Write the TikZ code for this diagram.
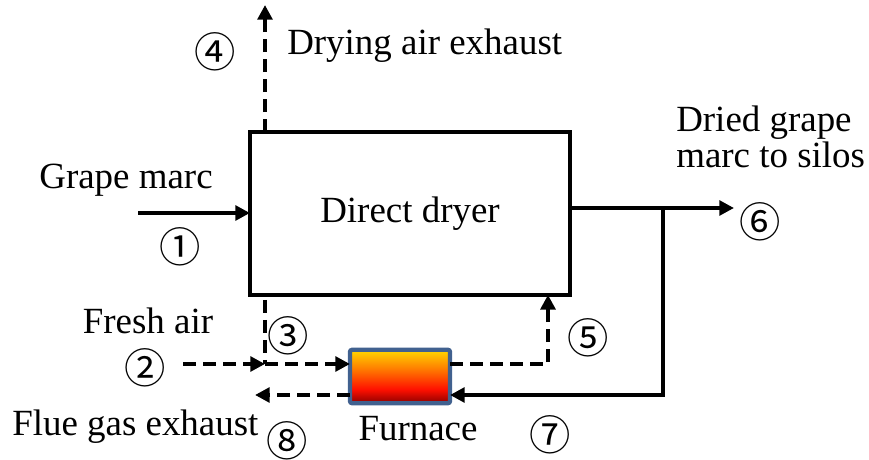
\documentclass[tikz,border=0pt]{standalone}
\usepackage{fontspec}
\setmainfont{Liberation Serif}
\newfontfamily\circfont{Noto Sans CJK SC}
\usetikzlibrary{arrows.meta,calc}
\definecolor{furnblue}{HTML}{41618F}
\definecolor{fdred}{HTML}{8C0000}
\definecolor{fred}{HTML}{FF1000}
\definecolor{forange}{HTML}{FF8000}
\definecolor{fyellow}{HTML}{FFD800}
\pgfdeclareverticalshading{furnshade}{100bp}{color(0bp)=(fdred); color(25bp)=(fdred); color(38bp)=(fred); color(58bp)=(forange); color(75bp)=(fyellow); color(100bp)=(fyellow)}
\tikzset{
  lbl/.style={font=\fontsize{27.7pt}{27.7pt}\selectfont, inner sep=0pt},
  num/.style={font=\circfont\fontsize{31pt}{31pt}\selectfont, inner sep=0pt},
  flow/.style={line width=3.4pt, -{Triangle[length=11pt,width=11pt]}},
  gasflow/.style={flow, dash pattern=on 9.5pt off 5.5pt},
  gasline/.style={line width=3.4pt, dash pattern=on 9.5pt off 5.5pt},
}
\begin{document}
\begin{tikzpicture}[x=0.75pt,y=-0.75pt]
\useasboundingbox (0,0) rectangle (869,460);
% units
\node[draw, line width=3.4pt, minimum width=240pt, minimum height=122pt, outer sep=0pt, lbl] (dryer) at (410,213.5) {Direct dryer};
\node[draw=furnblue, line width=3.2pt, rounded corners=1.5pt, minimum width=75pt, minimum height=40pt, outer sep=0pt, shading=furnshade] (furn) at (400,376.5) {};
% coordinates
\coordinate (gm) at (138,213);
\coordinate (ex) at (265,5);
\coordinate (out) at (734,208);
\coordinate (br) at (663,208);
\coordinate (ret) at (663,395);
\coordinate (fa) at (183,364);
\coordinate (jn) at (265,364);
\coordinate (f5) at (548,364);
\coordinate (fg) at (255,395);
% connectors
\draw[flow] (gm) -- (gm -| dryer.west);
\draw[gasflow] (ex |- dryer.north) -- (ex);
\draw[flow] (dryer.east |- out) -- (out);
\draw[flow] (br) -- (ret) -- (ret -| furn.east);
\draw[gasflow] (fa) -- (jn);
\draw[gasline] ($(jn |- dryer.south)+(0,5)$) -- (jn);
\draw[gasflow] (jn) -- (jn -| furn.west);
\draw[gasflow] (furn.east |- f5) -- (f5) -- (f5 |- dryer.south);
\draw[gasflow] (furn.west |- ret) -- (fg);
% labels
\node[lbl, anchor=base] (tgm) at (126,189) {Grape marc};
\node[lbl, anchor=base west] (tex) at (287,55) {Drying air exhaust};
\node[lbl, anchor=base west] (tdg1) at (676,132) {Dried grape};
\node[lbl, anchor=base west] (tdg2) at (676,168) {marc to silos};
\node[lbl, anchor=base] (tfa) at (148,334) {Fresh air};
\node[lbl, anchor=base west] (tfg) at (12,435) {Flue gas exhaust};
\node[lbl, anchor=base] (tfu) at (418,440) {Furnace};
% numbers
\node[num] (n1) at (180,247) {①};
\node[num] (n2) at (145,368) {②};
\node[num] (n3) at (288,336) {③};
\node[num] (n4) at (215,52) {④};
\node[num] (n5) at (588,338) {⑤};
\node[num] (n6) at (760,222) {⑥};
\node[num] (n7) at (550,435) {⑦};
\node[num] (n8) at (287,441) {⑧};
\end{tikzpicture}
\end{document}
